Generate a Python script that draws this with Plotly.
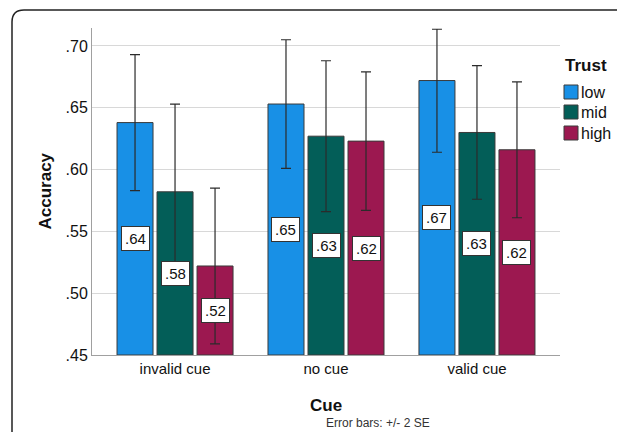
import plotly.graph_objects as go

categories = ["invalid cue", "no cue", "valid cue"]
series_names = ["low", "mid", "high"]
low_vals = [0.638, 0.653, 0.672]
mid_vals = [0.582, 0.627, 0.630]
high_vals = [0.522, 0.623, 0.616]
low_err_up = [0.055, 0.052, 0.0415]
low_err_down = [0.055, 0.052, 0.058]
mid_err = [0.071, 0.061, 0.054]
high_err = [0.063, 0.056, 0.055]
label_low = [".64", ".65", ".67"]
label_mid = [".58", ".63", ".63"]
label_high = [".52", ".62", ".62"]
y_ticks = [0.45, 0.50, 0.55, 0.60, 0.65, 0.70]
y_tick_labels = [".45", ".50", ".55", ".60", ".65", ".70"]

colors = ["#1890e6", "#035e58", "#9c1850"]
FONT = "Arial, Liberation Sans, sans-serif"
Y0 = 0.45
BARGAP = 0.205

# page body has an 8px margin; work in screen pixels and compensate
OFF = 8
W, H = 625 - OFF, 432 - OFF
L, T = 92 - OFF, 28 - OFF
PW, PH = 468, 327
R, B = W - L - PW, H - T - PH


def px(x):
    return (x - OFF - L) / PW


def py(y):
    return 1 - (y - OFF - T) / PH


fig = go.Figure()
all_vals = [low_vals, mid_vals, high_vals]
all_up = [low_err_up, mid_err, high_err]
all_down = [low_err_down, mid_err, high_err]
all_labels = [label_low, label_mid, label_high]
for name, vals, up, down, col in zip(series_names, all_vals, all_up, all_down, colors):
    fig.add_trace(go.Bar(
        name=name, x=categories, y=[v - Y0 for v in vals], base=Y0,
        marker=dict(color=col, line=dict(color="#3a3a3a", width=1)),
        error_y=dict(type="data", symmetric=False, array=up, arrayminus=down,
                     color="#2b2b2b", thickness=1.2, width=5),
    ))

slot = (1 - BARGAP) / 3
annotations = []
for k, (vals, labs) in enumerate(zip(all_vals, all_labels)):
    for i, (v, lab) in enumerate(zip(vals, labs)):
        annotations.append(dict(
            x=i + (k - 1) * slot, y=(Y0 + v) / 2, xref="x", yref="y",
            text=lab, showarrow=False,
            font=dict(family=FONT, size=15, color="#111"),
            bgcolor="white", bordercolor="#333", borderwidth=1, borderpad=3,
        ))

annotations.append(dict(
    x=px(326), y=py(405), xref="paper", yref="paper", text="<b>Cue</b>", showarrow=False,
    font=dict(family=FONT, size=17, color="#111"), xanchor="center", yanchor="middle",
))
annotations.append(dict(
    x=px(324), y=py(423), xref="paper", yref="paper", text="Error bars: +/- 2 SE",
    showarrow=False, font=dict(family=FONT, size=12, color="#333"),
    xanchor="left", yanchor="middle",
))
annotations.append(dict(
    x=px(45), y=0.5, xref="paper", yref="paper", text="<b>Accuracy</b>", showarrow=False,
    textangle=-90, font=dict(family=FONT, size=17, color="#111"),
    xanchor="center", yanchor="middle",
))

# manual legend
annotations.append(dict(
    x=px(563), y=py(65), xref="paper", yref="paper", text="<b>Trust</b>", showarrow=False,
    font=dict(family=FONT, size=17, color="#111"), xanchor="left", yanchor="middle",
))
shapes = []
leg_y = [92, 112, 133]
for name, col, yc in zip(series_names, colors, leg_y):
    shapes.append(dict(type="rect", xref="paper", yref="paper",
                       x0=px(564), x1=px(578), y0=py(yc + 7), y1=py(yc - 7),
                       fillcolor=col, line=dict(color="#3a3a3a", width=1)))
    annotations.append(dict(
        x=px(579), y=py(yc), xref="paper", yref="paper", text=name, showarrow=False,
        font=dict(family=FONT, size=16, color="#111"), xanchor="left", yanchor="middle",
    ))

# rounded frame around the chart
x0 = px(12)
y0t = py(10)
r_x = 12 / PW
r_y = 12 / PH
xe = px(640)
ye = py(450)
shapes.append(dict(type="path", xref="paper", yref="paper",
                   path=f"M {x0},{ye} L {x0},{y0t - r_y} Q {x0},{y0t} {x0 + r_x},{y0t} L {xe},{y0t}",
                   line=dict(color="#222", width=1.5)))

fig.update_layout(
    width=W, height=H,
    margin=dict(l=L, r=R, t=T, b=B),
    paper_bgcolor="white", plot_bgcolor="white",
    barmode="group", bargap=BARGAP, bargroupgap=0.1,
    font=dict(family=FONT, size=14, color="#111"),
    showlegend=False,
    xaxis=dict(
        type="category", range=[-0.55, 2.55], showgrid=False, automargin=False,
        showline=True, linecolor="#a0a0a0", linewidth=1, ticks="",
        tickfont=dict(family=FONT, size=15, color="#111"),
    ),
    yaxis=dict(
        range=[0.45, 0.7145], tickvals=y_ticks, ticktext=y_tick_labels, automargin=False,
        showgrid=True, gridcolor="#d8d8d8", gridwidth=1,
        showline=True, linecolor="#a0a0a0", linewidth=1, ticks="",
        tickfont=dict(family=FONT, size=16, color="#111"), zeroline=False,
    ),
    annotations=annotations,
    shapes=shapes,
)

fig.write_html("out.html")
